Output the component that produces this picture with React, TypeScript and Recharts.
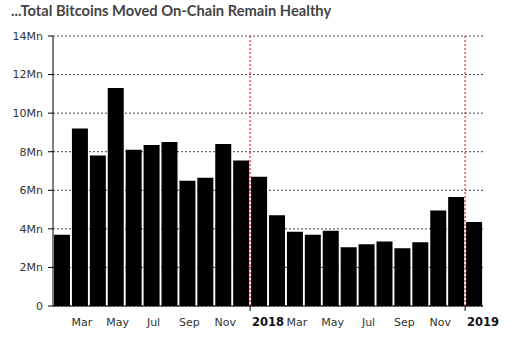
import React from "react";
import {
  BarChart,
  Bar,
  XAxis,
  YAxis,
  CartesianGrid,
  ReferenceLine,
} from "recharts";

// monthly on-chain volume, Feb 2017 .. Jan 2019 (millions of BTC)
const months = [
  "Feb 2017", "Mar 2017", "Apr 2017", "May 2017", "Jun 2017", "Jul 2017",
  "Aug 2017", "Sep 2017", "Oct 2017", "Nov 2017", "Dec 2017", "Jan 2018",
  "Feb 2018", "Mar 2018", "Apr 2018", "May 2018", "Jun 2018", "Jul 2018",
  "Aug 2018", "Sep 2018", "Oct 2018", "Nov 2018", "Dec 2018", "Jan 2019",
];

const moved = [
  3.7, 9.2, 7.8, 11.3, 8.1, 8.35, 8.5, 6.5, 6.65, 8.4, 7.55, 6.7,
  4.7, 3.85, 3.7, 3.9, 3.05, 3.2, 3.35, 3.0, 3.3, 4.95, 5.65, 4.35,
];

const tickLabels = [
  "", "Mar", "", "May", "", "Jul", "", "Sep", "", "Nov", "", "2018",
  "", "Mar", "", "May", "", "Jul", "", "Sep", "", "Nov", "", "2019",
];

const yTicks = [0, 2, 4, 6, 8, 10, 12, 14];
const yearStarts = ["Jan 2018", "Jan 2019"];

const data = months.map((m, i) => ({ month: m, value: moved[i], label: tickLabels[i] }));

const FONT = "'DejaVu Sans', Verdana, sans-serif";

function MonthTick(props: any) {
  const { x, y, payload } = props;
  const i = months.indexOf(payload.value);
  const label = tickLabels[i];
  if (!label) return null;
  const isYear = /^\d{4}$/.test(label);
  const half = payload.offset || 9;
  if (isYear) {
    const left = x - half;
    return (
      <g>
        <line x1={left} x2={left} y1={y} y2={y + 5} stroke="#000" />
        <text
          x={left + 2}
          y={y + 20}
          textAnchor="start"
          fontFamily={FONT}
          fontSize={11.5}
          fontWeight="bold"
          fill="#111"
        >
          {label}
        </text>
      </g>
    );
  }
  return (
    <text
      x={x + 2}
      y={y + 20}
      textAnchor="middle"
      fontFamily={FONT}
      fontSize={11}
      fill="#333"
    >
      {label}
    </text>
  );
}

export default function App() {
  return (
    <div
      style={{
        position: "absolute",
        left: 0,
        top: 0,
        width: 516,
        height: 354,
        background: "#fff",
      }}
    >
      <div
        style={{
          position: "absolute",
          left: 11,
          top: 1,
          fontFamily: "Lato, 'Open Sans', sans-serif",
          fontWeight: 700,
          fontSize: 14.7,
          color: "#444",
          zIndex: 2,
        }}
      >
        ...Total Bitcoins Moved On-Chain Remain Healthy
      </div>
      <BarChart
        width={516}
        height={354}
        data={data}
        margin={{ top: 36, right: 33, bottom: 18, left: 0 }}
        barCategoryGap={1}
      >
        <CartesianGrid
          vertical={false}
          stroke="#444"
          strokeDasharray="2 2"
        />
        <YAxis
          width={53}
          domain={[0, 14]}
          ticks={yTicks}
          interval={0}
          tickFormatter={(v: number) => (v === 0 ? "0" : `${v}Mn`)}
          axisLine={{ stroke: "#000" }}
          tickLine={{ stroke: "#000" }}
          tickSize={5}
          tickMargin={5}
          tick={{ fontFamily: FONT, fontSize: 11, fill: "#333" }}
        />
        <XAxis
          dataKey="month"
          height={30}
          interval={0}
          tickLine={false}
          tickSize={0}
          tickMargin={0}
          axisLine={{ stroke: "#000" }}
          tick={<MonthTick />}
        />
        <Bar dataKey="value" fill="#000" isAnimationActive={false} />
        {yearStarts.map((m) => (
          <ReferenceLine
            key={m}
            x={m}
            position="start"
            stroke="#e00000"
            strokeDasharray="2 2"
          />
        ))}
      </BarChart>
    </div>
  );
}
